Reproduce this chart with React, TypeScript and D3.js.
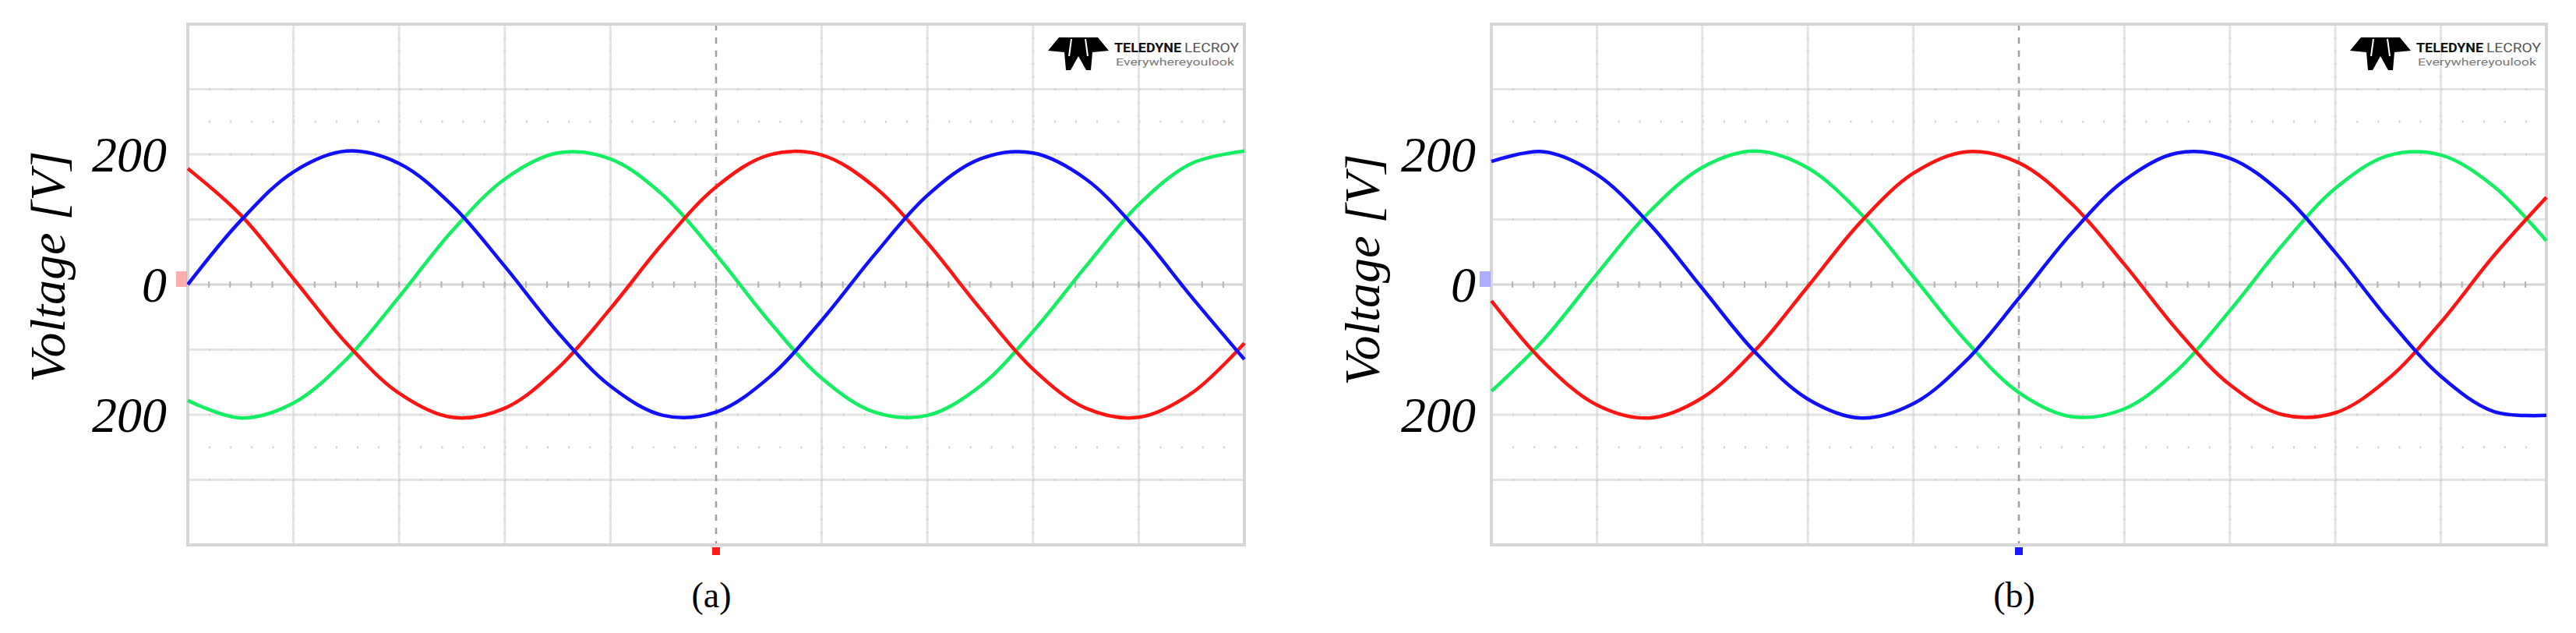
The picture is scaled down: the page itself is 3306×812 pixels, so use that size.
import React, { useEffect, useRef } from 'react';
import * as d3 from 'd3';

const SIZE = [3306, 812];
const PLOT_TOP = 31;
const PLOT_BOTTOM = 699;

// sample instants in horizontal screen divisions (10 div across the capture)
const sampleDiv = [0, 0.5, 1, 1.5, 2, 2.5, 3, 3.5, 4, 4.5, 5, 5.5, 6, 6.5, 7, 7.5, 8, 8.5, 9, 9.5, 10];

const aRed = [178, 107, 9, -90, -167, -204, -190, -129, -37, 64, 150, 199, 199, 150, 64, -37, -130, -190, -204, -167, -90];
const aGreen = [-178, -205, -182, -115, -19, 82, 162, 202, 193, 137, 46, -56, -144, -196, -201, -156, -72, 28, 123, 186, 205];
const aBlue = [0, 98, 173, 205, 186, 122, 28, -73, -156, -201, -196, -143, -55, 46, 137, 193, 202, 162, 81, -19, -115];

// (b) phase voltages [V]
const bRed = [-25, -120, -185, -205, -174, -101, -3, 96, 171, 204, 187, 124, 31, -70, -154, -200, -197, -145, -58, 44, 134];
const bGreen = [-164, -84, 16, 112, 180, 205, 179, 109, 12, -87, -166, -203, -191, -132, -40, 61, 148, 198, 199, 151, 67];
const bBlue = [189, 204, 169, 93, -6, -104, -176, -205, -183, -117, -21, 79, 160, 202, 194, 139, 49, -53, -141, -195, -201];

const voltTicks = [200, 0, -200];
const voltTickLabels = ['200', '0', '200'];
const hDivs = [0, 1, 2, 3, 4, 5, 6, 7, 8, 9, 10];
const vDivs = [-400, -300, -200, -100, 0, 100, 200, 300, 400];
const dotRows = [250, -250];

const panels = [
	{ left: 241, right: 1597, caption: '(a)', mark: '#ff1a1a', gnd: '#ff9a9a', labelGap: 27, titleX: 83, titleY: 342, red: aRed, green: aGreen, blue: aBlue },
	{ left: 1914, right: 3268, caption: '(b)', mark: '#1a1aff', gnd: '#9a9aff', labelGap: 20, titleX: 1770, titleY: 346, red: bRed, green: bGreen, blue: bBlue },
];

const SERIF = '"Liberation Serif", "Times New Roman", serif';

function drawPanel(svg, p) {
	const x = d3.scaleLinear().domain([0, 10]).range([p.left, p.right]);
	const y = d3.scaleLinear().domain([-400, 400]).range([PLOT_BOTTOM, PLOT_TOP]);
	const divW = (p.right - p.left) / 10;
	const divH = (PLOT_BOTTOM - PLOT_TOP) / 8;
	const g = svg.append('g');

	// major graticule
	g.selectAll('.vg')
		.data(hDivs.filter(d => d !== 5))
		.enter()
		.append('line')
		.attr('x1', d => x(d))
		.attr('x2', d => x(d))
		.attr('y1', PLOT_TOP)
		.attr('y2', PLOT_BOTTOM)
		.attr('stroke', '#e4e4e4')
		.attr('stroke-width', 3);
	g.selectAll('.hg')
		.data(vDivs)
		.enter()
		.append('line')
		.attr('x1', p.left)
		.attr('x2', p.right)
		.attr('y1', d => y(d))
		.attr('y2', d => y(d))
		.attr('stroke', d => (d === 0 ? '#d6d6d6' : '#e4e4e4'))
		.attr('stroke-width', 3);

	// minor dots along every line, 5 per division
	g.selectAll('.hdot')
		.data(vDivs.concat(dotRows))
		.enter()
		.append('line')
		.attr('x1', p.left)
		.attr('x2', p.right)
		.attr('y1', d => y(d))
		.attr('y2', d => y(d))
		.attr('stroke', '#d2d2d2')
		.attr('stroke-width', 3)
		.attr('stroke-dasharray', `2 ${divW / 5 - 2}`);
	g.selectAll('.vdot')
		.data(hDivs)
		.enter()
		.append('line')
		.attr('x1', d => x(d))
		.attr('x2', d => x(d))
		.attr('y1', PLOT_TOP)
		.attr('y2', PLOT_BOTTOM)
		.attr('stroke', '#d8d8d8')
		.attr('stroke-width', 3)
		.attr('stroke-dasharray', `2 ${divH / 5 - 2}`);

	// centre axes with ticks
	g.append('line')
		.attr('x1', x(5))
		.attr('x2', x(5))
		.attr('y1', PLOT_TOP)
		.attr('y2', PLOT_BOTTOM)
		.attr('stroke', '#a0a0a0')
		.attr('stroke-width', 2.5)
		.attr('stroke-dasharray', '8 9');
	const tickX = d3.range(0, 50).map(i => p.left + (i * divW) / 5);
	g.selectAll('.tx')
		.data(tickX)
		.enter()
		.append('line')
		.attr('x1', d => d)
		.attr('x2', d => d)
		.attr('y1', y(0) - 4)
		.attr('y2', y(0) + 4)
		.attr('stroke', '#b4b4b4')
		.attr('stroke-width', 2);

	// frame
	g.append('rect')
		.attr('x', p.left)
		.attr('y', PLOT_TOP)
		.attr('width', p.right - p.left)
		.attr('height', PLOT_BOTTOM - PLOT_TOP)
		.attr('fill', 'none')
		.attr('stroke', '#d6d6d6')
		.attr('stroke-width', 4);

	// traces
	const line = d3
		.line()
		.x((d, i) => x(sampleDiv[i]))
		.y(d => y(d))
		.curve(d3.curveCatmullRom.alpha(0.5));
	[
		[p.green, '#14ee62'],
		[p.red, '#ff1414'],
		[p.blue, '#1010ff'],
	].forEach(([vals, col]) => {
		g.append('path')
			.attr('d', line(vals))
			.attr('fill', 'none')
			.attr('stroke', col)
			.attr('stroke-width', 4.5)
			.attr('stroke-linejoin', 'round');
	});

	// ground marker and trigger marker
	g.append('rect')
		.attr('x', p.left - 15)
		.attr('y', y(0) - 17)
		.attr('width', 14)
		.attr('height', 20)
		.attr('fill', p.gnd)
		.attr('opacity', 0.8);
	g.append('rect')
		.attr('x', x(5) - 5)
		.attr('y', PLOT_BOTTOM + 3)
		.attr('width', 10)
		.attr('height', 10)
		.attr('fill', p.mark);

	// logo
	const lg = g.append('g').attr('transform', `translate(${p.right - 252},48)`);
	lg.append('path')
		.attr('d', 'M14,0 L64,0 L78,17 L57,19 L55,42 L49,42 L39,24 L29,42 L23,42 L21,19 L0,17 Z')
		.attr('fill', '#000');
	lg.append('path')
		.attr('d', 'M30,2 L27,24 M48,2 L51,24')
		.attr('stroke', '#fff')
		.attr('stroke-width', 2);
	lg.append('text')
		.attr('x', 85)
		.attr('y', 19)
		.attr('font-family', 'Roboto, sans-serif')
		.attr('font-weight', 'bold')
		.attr('font-size', 17)
		.attr('textLength', 86)
		.attr('lengthAdjust', 'spacingAndGlyphs')
		.attr('fill', '#111')
		.text('TELEDYNE');
	lg.append('text')
		.attr('x', 175)
		.attr('y', 19)
		.attr('font-family', 'Roboto, sans-serif')
		.attr('font-size', 17)
		.attr('textLength', 70)
		.attr('lengthAdjust', 'spacingAndGlyphs')
		.attr('fill', '#555')
		.text('LECROY');
	lg.append('text')
		.attr('x', 87)
		.attr('y', 36)
		.attr('font-family', 'Roboto, sans-serif')
		.attr('font-size', 13)
		.attr('textLength', 152)
		.attr('lengthAdjust', 'spacingAndGlyphs')
		.attr('fill', '#777')
		.text('Everywhereyoulook');

	// y labels
	g.selectAll('.yl')
		.data(voltTicks)
		.enter()
		.append('text')
		.attr('x', p.left - p.labelGap)
		.attr('y', d => y(d))
		.attr('dy', '0.34em')
		.attr('text-anchor', 'end')
		.attr('font-family', SERIF)
		.attr('font-style', 'italic')
		.attr('font-size', 64)
		.attr('fill', '#000')
		.text((d, i) => voltTickLabels[i]);
	g.append('text')
		.attr('transform', `translate(${p.titleX},${p.titleY}) rotate(-90)`)
		.attr('text-anchor', 'middle')
		.attr('font-family', SERIF)
		.attr('font-style', 'italic')
		.attr('font-size', 64)
		.attr('fill', '#000')
		.text('Voltage [V]');

	// caption
	g.append('text')
		.attr('x', x(5) - 6)
		.attr('y', 779)
		.attr('text-anchor', 'middle')
		.attr('font-family', SERIF)
		.attr('font-size', 46)
		.attr('fill', '#000')
		.text(p.caption);
}

export default function App() {
	const ref = useRef(null);
	useEffect(() => {
		const svg = d3.select(ref.current);
		svg.selectAll('*').remove();
		svg.append('rect').attr('width', SIZE[0]).attr('height', SIZE[1]).attr('fill', '#fff');
		panels.forEach(p => drawPanel(svg, p));
	}, []);
	return (
		<svg
			ref={ref}
			width={SIZE[0]}
			height={SIZE[1]}
			style={{ position: 'absolute', left: 0, top: 0, display: 'block' }}
		/>
	);
}
